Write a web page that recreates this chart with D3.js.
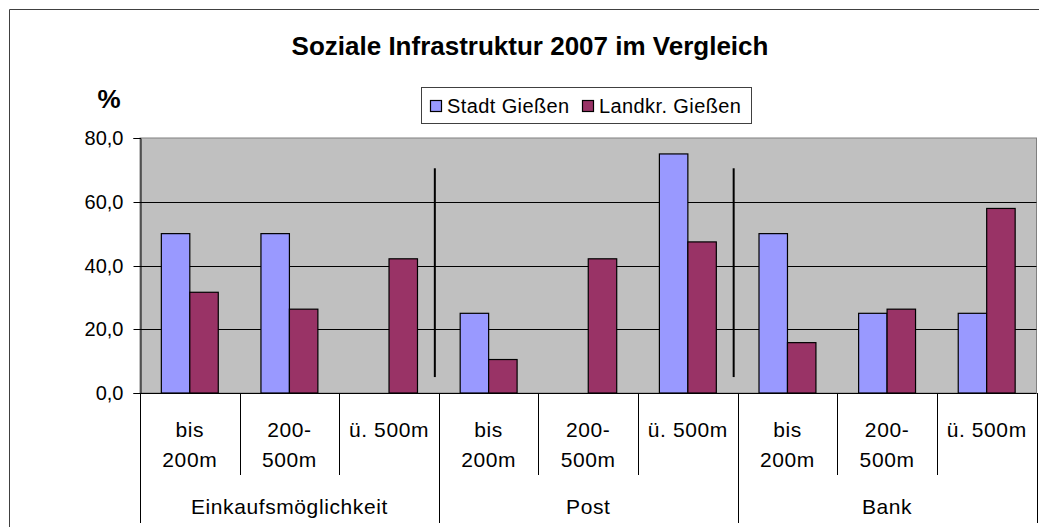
<!DOCTYPE html>
<html>
<head>
<meta charset="utf-8">
<script src="https://cdn.jsdelivr.net/npm/d3@7"></script>
<style>
  html, body { margin: 0; padding: 0; background: #fff; }
  svg { display: block; }
  text { font-family: "Liberation Sans", Arial, sans-serif; fill: #000; }
</style>
</head>
<body>
<svg id="chart" width="1039" height="527"></svg>
<script>
// ---- data ----
const groups = ["Einkaufsmöglichkeit", "Post", "Bank"];
const distances = [["bis", "200m"], ["200-", "500m"], ["ü. 500m"]];
const seriesNames = ["Stadt Gießen", "Landkr. Gießen"];
const stadt = [50.0, 50.0, 0.0, 25.0, 0.0, 75.0, 50.0, 25.0, 25.0];
const landkr = [31.6, 26.3, 42.1, 10.5, 42.1, 47.4, 15.8, 26.3, 57.9];
const yTicks = [0, 20, 40, 60, 80];
const dividerRange = [5, 70.5];

const colors = ["#9999ff", "#993366"];

const svg = d3.select("#chart");
const W = 1039, H = 527;
const plot = { left: 140, right: 1036.5, top: 138, bottom: 393 };

// outer frame
svg.append("path")
  .attr("d", `M9.5,${H + 2}V9.5H${W + 2}`)
  .attr("fill", "none").attr("stroke", "#404040").attr("stroke-width", 1);

// categories
const cats = [];
groups.forEach((g, gi) => distances.forEach((d, di) => cats.push({ g, gi, d, di, id: gi * 3 + di })));

const x = d3.scaleBand().domain(cats.map(c => c.id)).range([plot.left, plot.right]).padding(0);
const xs = d3.scaleBand().domain(seriesNames).range([0, x.bandwidth()]).paddingInner(0).paddingOuter(0.75);
const y = d3.scaleLinear().domain([0, 80]).range([plot.bottom, plot.top]);

// plot background
svg.append("rect")
  .attr("x", plot.left).attr("y", plot.top)
  .attr("width", plot.right - plot.left).attr("height", plot.bottom - plot.top)
  .attr("fill", "#c0c0c0").attr("stroke", "#808080").attr("stroke-width", 1);

// gridlines
svg.append("g").selectAll("line").data(yTicks.filter(t => t > 0 && t < 80)).join("line")
  .attr("x1", plot.left).attr("x2", plot.right)
  .attr("y1", d => Math.round(y(d)) + 0.5).attr("y2", d => Math.round(y(d)) + 0.5)
  .attr("stroke", "#000").attr("stroke-width", 1);

// bars
const values = [stadt, landkr];
const barData = [];
cats.forEach((c, i) => seriesNames.forEach((s, si) => {
  const v = values[si][i];
  if (v > 0) barData.push({ c, s, si, v });
}));
svg.append("g").selectAll("rect").data(barData).join("rect")
  .attr("x", d => x(d.c.id) + xs(d.s))
  .attr("y", d => y(d.v))
  .attr("width", xs.bandwidth())
  .attr("height", d => y(0) - y(d.v))
  .attr("fill", d => colors[d.si])
  .attr("stroke", "#000").attr("stroke-width", 1.2);

// divider lines between groups
[3, 6].forEach(i => {
  const xx = x(i) - 4;
  svg.append("line")
    .attr("x1", xx).attr("x2", xx)
    .attr("y1", y(dividerRange[1])).attr("y2", y(dividerRange[0]))
    .attr("stroke", "#000").attr("stroke-width", 2);
});

// y axis
const yAxis = d3.axisLeft(y).tickValues(yTicks).tickSize(7).tickPadding(10)
  .tickFormat(d => d3.format(".1f")(d).replace(".", ","));
const ya = svg.append("g").attr("transform", `translate(${plot.left + 0.5},0)`).call(yAxis);
ya.select(".domain").attr("stroke", "#000");
ya.selectAll(".tick line").attr("stroke", "#000");
ya.selectAll(".tick text").style("font-size", "20px").attr("fill", "#000")
  .attr("font-family", "Liberation Sans, Arial, sans-serif");
ya.selectAll(".tick").attr("transform", d => `translate(0,${Math.round(y(d)) + 0.5})`);

// zero line
svg.append("line").attr("x1", plot.left).attr("x2", plot.right)
  .attr("y1", plot.bottom + 0.5).attr("y2", plot.bottom + 0.5).attr("stroke", "#000");

// category separators
const bounds = d3.range(cats.length + 1).map(i => i < cats.length ? x(i) : plot.right);
svg.append("g").selectAll("line").data(bounds).join("line")
  .attr("x1", d => Math.round(d) + 0.5).attr("x2", d => Math.round(d) + 0.5)
  .attr("y1", plot.bottom)
  .attr("y2", (d, i) => i % 3 === 0 ? 523 : 475)
  .attr("stroke", "#000").attr("stroke-width", 1);

// category labels
const lab = svg.append("g");
cats.forEach(c => {
  const cx = x(c.id) + x.bandwidth() / 2;
  const t = lab.append("text").attr("text-anchor", "middle").style("font-size", "21px")
    .style("letter-spacing", "0.6px")
    .attr("x", cx).attr("y", 437);
  c.d.forEach((line, li) => {
    t.append("tspan").attr("x", cx).attr("dy", li === 0 ? 0 : 30).text(line);
  });
});
groups.forEach((g, gi) => {
  const cx = (x(gi * 3) + (gi * 3 + 3 < cats.length ? x(gi * 3 + 3) : plot.right)) / 2;
  lab.append("text").attr("text-anchor", "middle").style("font-size", "21px")
    .style("letter-spacing", "0.6px")
    .attr("x", cx).attr("y", 514).text(g);
});

// title
svg.append("text").attr("x", 530).attr("y", 55).attr("text-anchor", "middle")
  .style("font-size", "26px").style("font-weight", "bold")
  .text("Soziale Infrastruktur 2007 im Vergleich");

// % label
svg.append("text").attr("x", 109).attr("y", 108).attr("text-anchor", "middle")
  .style("font-size", "26px").style("font-weight", "bold").text("%");

// legend
const lg = svg.append("g");
lg.append("rect").attr("x", 421.5).attr("y", 87.5).attr("width", 330).attr("height", 36)
  .attr("fill", "#fff").attr("stroke", "#404040").attr("stroke-width", 1);
const legX = [430, 582];
seriesNames.forEach((s, i) => {
  lg.append("rect").attr("x", legX[i] + 0.5).attr("y", 100.5).attr("width", 11).attr("height", 11)
    .attr("fill", colors[i]).attr("stroke", "#000").attr("stroke-width", 1.2);
  lg.append("text").attr("x", legX[i] + 17).attr("y", 112.5).style("font-size", "20px")
    .style("letter-spacing", "0.4px").text(s);
});
</script>
</body>
</html>
